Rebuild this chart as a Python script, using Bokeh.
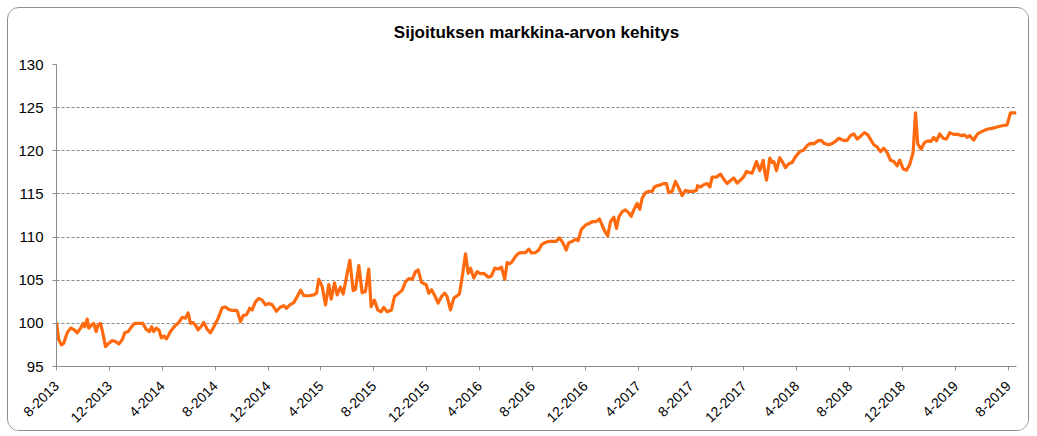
import math
from bokeh.plotting import figure
from bokeh.models import Range1d, FixedTicker, ColumnDataSource
from bokeh.embed import file_html
from bokeh.resources import INLINE

# months since 8-2013 (fractional) and market value index
months = [
    0.0, 0.17, 0.38, 0.55, 0.81, 1.06, 1.31, 1.57, 1.82, 2.02, 2.14, 2.32, 2.44, 2.65, 2.82, 3.00,
    3.15, 3.33, 3.50, 3.71, 3.96, 4.21, 4.46, 4.71, 4.97, 5.17, 5.42, 5.67, 5.92, 6.23, 6.53, 6.79,
    7.03, 7.19, 7.36, 7.54, 7.74, 7.94, 8.12, 8.32, 8.62, 8.95, 9.25, 9.51, 9.76, 9.96, 10.14, 10.31,
    10.51, 10.72, 10.97, 11.14, 11.40, 11.65, 11.90, 12.23, 12.53, 12.78, 13.03, 13.29, 13.54,
    13.67, 13.92, 14.12, 14.37, 14.62, 14.80, 15.05, 15.30, 15.56, 15.81, 16.06, 16.32, 16.64, 16.94,
    17.19, 17.40, 17.65, 17.95, 18.21, 18.46, 18.71, 19.08, 19.46, 19.67, 19.84, 20.10, 20.35, 20.60,
    20.78, 21.03, 21.23, 21.48, 21.69, 21.94, 22.19, 22.44, 22.62, 22.87, 23.12, 23.37, 23.62, 23.80,
    24.05, 24.30, 24.56, 24.76, 25.01, 25.34, 25.57, 25.89, 26.15, 26.40,
    26.65, 26.91, 27.16, 27.36, 27.61, 27.78, 27.96, 28.16, 28.37, 28.62, 28.87, 29.12, 29.37, 29.55,
    29.80, 30.05, 30.31, 30.48, 30.69, 30.94, 31.14, 31.32, 31.57, 31.82, 32.07, 32.32, 32.66, 32.90,
    33.15, 33.41, 33.66, 33.91, 34.09, 34.27, 34.47, 34.72, 34.97, 35.23, 35.48, 35.73, 35.93, 36.23,
    36.48, 36.69, 36.94, 37.24, 37.50, 37.80, 38.05, 38.30, 38.56, 38.75, 39.01, 39.26, 39.46, 39.71,
    40.02, 40.32, 40.57, 40.82, 41.07, 41.32,
    41.47, 41.70, 41.91, 42.16, 42.36, 42.53, 42.79, 43.04, 43.29, 43.47, 43.67, 43.92, 44.12, 44.30,
    44.55, 44.80, 45.06, 45.23, 45.44, 45.69, 45.94, 46.14, 46.31, 46.57, 46.82, 47.07, 47.33, 47.58,
    47.83, 48.16, 48.41, 48.49, 48.71, 48.96, 49.22, 49.42, 49.60, 49.92, 50.23, 50.48, 50.73, 50.98,
    51.23, 51.49, 51.74, 51.99, 52.19,
    52.37, 52.62, 52.95, 53.20, 53.46, 53.56, 53.71, 53.96, 54.14, 54.26, 54.46, 54.71, 54.90, 55.14,
    55.39, 55.65, 55.90, 56.23, 56.53, 56.78, 57.03, 57.28, 57.59, 57.84, 58.09, 58.42, 58.68, 58.93,
    59.18, 59.51, 59.81, 60.06, 60.31, 60.57, 60.87, 61.12, 61.37, 61.63, 61.82, 62.08, 62.33, 62.58,
    62.84, 63.09, 63.34, 63.59, 63.79, 64.05, 64.30, 64.55, 64.80, 64.98, 65.15, 65.41, 65.66, 65.91,
    66.16, 66.36, 66.57, 66.81, 67.07, 67.32, 67.57, 67.87, 68.18, 68.51, 68.68, 68.89, 69.08, 69.38,
    69.68, 70.02, 70.39, 70.77, 71.15, 71.53, 71.91, 72.16, 72.62,
]
values = [
    100.1, 98.1, 97.5, 97.7, 98.9, 99.45, 99.3, 98.9, 99.45, 100.0, 99.6, 100.5, 99.45, 99.8, 100.0, 99.05,
    99.8, 100.0, 98.9, 97.3, 97.7, 98.0, 97.9, 97.6, 98.1, 98.9, 99.05, 99.6, 100.0, 100.0, 100.0, 99.3,
    99.05, 99.6, 99.05, 99.45, 99.25, 98.3, 98.55, 98.2, 99.05, 99.7, 100.1, 100.7, 100.6, 101.2, 100.0, 100.1,
    99.8, 99.25, 99.7, 100.1, 99.3, 98.9, 99.6, 100.6, 101.8, 101.9, 101.6, 101.5, 101.5,
    101.45, 100.2, 100.9, 101.0, 101.75, 101.55, 102.5, 102.9, 102.7, 102.15, 102.3, 102.15, 101.4, 101.9,
    102.05, 101.75, 102.15, 102.4, 103.1, 103.85, 103.2, 103.2, 103.3, 103.5, 105.1, 104.25, 102.15, 104.5,
    102.8, 104.7, 103.3, 104.2, 103.4, 105.4, 107.3, 103.8, 103.95, 106.7, 103.55, 103.7, 106.3, 101.95,
    102.7, 101.55, 101.35, 101.85, 101.35, 101.55, 103.1, 103.5, 103.85, 104.8,
    105.2, 105.1, 106.0, 106.2, 104.75, 104.6, 104.5, 103.5, 103.9, 103.2, 102.35, 103.1, 103.5, 103.1,
    101.55, 102.9, 103.2, 103.4, 105.4, 108.05, 105.8, 106.4, 105.25, 106.0, 105.75, 105.8, 105.35, 105.5,
    106.4, 106.3, 106.5, 105.1, 107.05, 106.9, 107.15, 107.75, 108.15, 108.2, 108.2, 108.6, 108.15, 108.2,
    108.5, 109.1, 109.35, 109.5, 109.5, 109.5, 109.9, 109.35, 108.5, 109.35, 109.5, 109.75, 109.6, 110.9,
    111.4, 111.6, 111.8, 111.8, 112.1, 111.2,
    110.7, 110.15, 111.8, 112.3, 111.0, 112.3, 112.95, 113.15, 112.8, 112.4, 113.15, 113.9, 113.2, 114.5,
    115.15, 115.3, 115.3, 115.8, 115.95, 116.05, 116.2, 116.2, 115.15, 115.3, 116.45, 115.7, 114.8, 115.4,
    115.3, 115.3, 115.4, 115.95, 115.8, 116.05, 116.2, 115.8, 116.95, 116.95, 117.3, 116.7, 116.2, 116.55,
    116.85, 116.25, 116.6, 117.0, 117.6,
    117.5, 117.4, 118.75, 117.7, 118.9, 117.7, 116.6, 119.15, 118.65, 118.75, 117.7, 119.2, 118.75, 118.05,
    118.5, 118.65, 119.3, 119.9, 120.1, 120.6, 120.85, 120.8, 121.15, 121.2, 120.85, 120.7, 120.85, 121.1,
    121.45, 121.2, 121.2, 121.75, 121.95, 121.35, 121.75, 122.1, 121.85, 121.2, 120.7, 120.45, 119.9, 120.3,
    119.8, 118.9, 118.75, 118.25, 118.9, 117.9, 117.75, 118.45, 119.8, 124.4, 120.8, 120.2, 120.95, 121.15,
    121.1, 121.55, 121.15, 121.95, 121.45, 121.35, 122.1, 121.9, 121.9, 121.75, 121.85, 121.55, 121.75, 121.25,
    121.95, 122.25, 122.5, 122.6, 122.75, 122.9, 123.0, 124.4, 124.4,
]

tick_positions = [0, 4, 8, 12, 16, 20, 24, 28, 32, 36, 40, 44, 48, 52, 56, 60, 64, 68, 72]
tick_labels = ["8-2013", "12-2013", "4-2014", "8-2014", "12-2014", "4-2015", "8-2015", "12-2015",
               "4-2016", "8-2016", "12-2016", "4-2017", "8-2017", "12-2017", "4-2018", "8-2018",
               "12-2018", "4-2019", "8-2019"]
y_ticks = [95, 100, 105, 110, 115, 120, 125, 130]
title_text = "Sijoituksen markkina-arvon kehitys"

FONT = "Liberation Sans"
AXIS_COLOR = "#8c8c8c"

p = figure(width=1022, height=424, output_backend="svg", toolbar_location=None,
           x_range=Range1d(0, 72.62), y_range=Range1d(95, 130),
           min_border_left=48, min_border_right=14, min_border_top=56, min_border_bottom=66)

# second (blank) line lifts the title higher above the plot area
p.title.text = title_text + "\n "
p.title.align = "center"
p.title.text_font = FONT
p.title.text_font_style = "bold"
p.title.text_font_size = "17px"
p.title.text_color = "#000000"
p.title.offset = 0
p.title.standoff = 8

src = ColumnDataSource(dict(x=months, y=values))
p.line("x", "y", source=src, line_color="#FF6A0E", line_width=3.2, line_join="round")

p.outline_line_color = None
p.background_fill_color = "white"
p.border_fill_color = "white"

# x axis
p.xaxis.ticker = FixedTicker(ticks=tick_positions)
p.xaxis.major_label_overrides = {t: l for t, l in zip(tick_positions, tick_labels)}
p.xaxis.major_label_orientation = math.pi / 4
p.xaxis.minor_tick_line_color = None
p.xaxis.axis_line_color = AXIS_COLOR
p.xaxis.major_tick_line_color = AXIS_COLOR
p.xaxis.major_tick_in = 0
p.xaxis.major_tick_out = 4
p.xaxis.major_label_text_font = FONT
p.xaxis.major_label_text_font_size = "14px"
p.xaxis.major_label_text_color = "#000000"
p.xaxis.major_label_standoff = 13

# y axis
p.yaxis.ticker = FixedTicker(ticks=y_ticks)
p.yaxis.minor_tick_line_color = None
p.yaxis.axis_line_color = AXIS_COLOR
p.yaxis.major_tick_line_color = AXIS_COLOR
p.yaxis.major_tick_in = 0
p.yaxis.major_tick_out = 4
p.yaxis.major_label_text_font = FONT
p.yaxis.major_label_text_font_size = "15px"
p.yaxis.major_label_text_color = "#000000"
p.yaxis.major_label_standoff = 9

p.xgrid.grid_line_color = None
p.ygrid.ticker = FixedTicker(ticks=y_ticks[1:])
p.ygrid.grid_line_color = "#8a8a8a"
p.ygrid.grid_line_dash = "3 2"
p.ygrid.grid_line_width = 1

p.styles = {"border": "1px solid #8c8c8c", "border-radius": "12px", "overflow": "hidden",
            "margin": "7px 0 0 7px"}

open("out.html", "w").write(file_html(p, INLINE))
